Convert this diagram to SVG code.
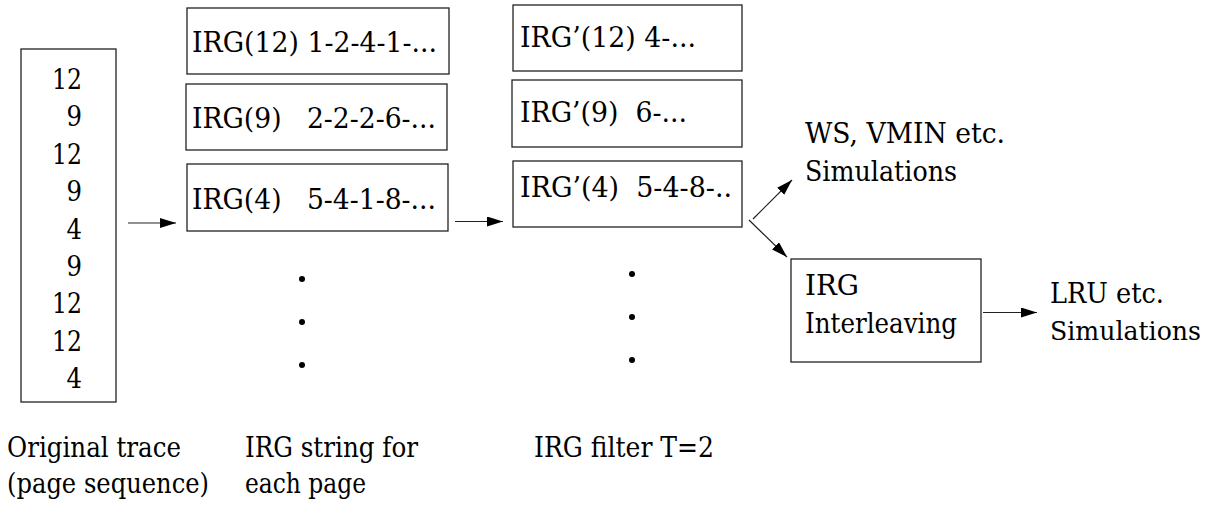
<svg xmlns="http://www.w3.org/2000/svg" width="1211" height="508" viewBox="0 0 1211 508" xml:space="preserve">
<defs>
<style>
text{font-family:"DejaVu Serif","Liberation Serif",serif;font-size:28px;fill:#000;white-space:pre}
.box{fill:#fff;stroke:#222;stroke-width:1.3}
.conn{stroke:#222;stroke-width:1.2;fill:none;marker-end:url(#ah)}
.dot{fill:#000}
</style>
<marker id="ah" markerUnits="userSpaceOnUse" markerWidth="17" markerHeight="12" refX="16" refY="5" orient="auto">
<path d="M0,0 L16,5 L0,10 z" fill="#000"/>
</marker>
</defs>
<rect width="1211" height="508" fill="#fff"/>
<g id="trace">
<rect class="box" x="21" y="49" width="95" height="353"/>
<g text-anchor="end">
<text x="82" y="89" textLength="30" lengthAdjust="spacingAndGlyphs">12</text>
<text x="82" y="126.4" textLength="15.5" lengthAdjust="spacingAndGlyphs">9</text>
<text x="82" y="163.8" textLength="30" lengthAdjust="spacingAndGlyphs">12</text>
<text x="82" y="201.2" textLength="15.5" lengthAdjust="spacingAndGlyphs">9</text>
<text x="82" y="238.6" textLength="15.5" lengthAdjust="spacingAndGlyphs">4</text>
<text x="82" y="276" textLength="15.5" lengthAdjust="spacingAndGlyphs">9</text>
<text x="82" y="313.4" textLength="30" lengthAdjust="spacingAndGlyphs">12</text>
<text x="82" y="350.8" textLength="30" lengthAdjust="spacingAndGlyphs">12</text>
<text x="82" y="388.2" textLength="15.5" lengthAdjust="spacingAndGlyphs">4</text>
</g>
</g>

<g id="irg12">
<rect class="box" x="187" y="8" width="262" height="66"/>
<text x="192" y="52" textLength="245" lengthAdjust="spacingAndGlyphs">IRG(12) 1-2-4-1-...</text>
</g>
<g id="irg9">
<rect class="box" x="186" y="84" width="261" height="66"/>
<text x="192" y="128" textLength="244" lengthAdjust="spacingAndGlyphs">IRG(9)   2-2-2-6-...</text>
</g>
<g id="irg4">
<rect class="box" x="187" y="164" width="261" height="67"/>
<text x="192" y="209" textLength="244" lengthAdjust="spacingAndGlyphs">IRG(4)   5-4-1-8-...</text>
</g>
<g id="dots2">
<circle class="dot" cx="302" cy="279" r="3"/>
<circle class="dot" cx="302" cy="322" r="3"/>
<circle class="dot" cx="302" cy="365" r="3"/>
</g>

<g id="irgp12">
<rect class="box" x="513" y="5" width="229" height="66"/>
<text x="520" y="47" textLength="176" lengthAdjust="spacingAndGlyphs">IRG’(12) 4-...</text>
</g>
<g id="irgp9">
<rect class="box" x="512" y="80" width="230" height="67"/>
<text x="520" y="122" textLength="167" lengthAdjust="spacingAndGlyphs">IRG’(9)  6-...</text>
</g>
<g id="irgp4">
<rect class="box" x="513" y="161" width="229" height="66"/>
<text x="520" y="197" textLength="212" lengthAdjust="spacingAndGlyphs">IRG’(4)  5-4-8-..</text>
</g>
<g id="dots3">
<circle class="dot" cx="632" cy="274" r="3"/>
<circle class="dot" cx="632" cy="317" r="3"/>
<circle class="dot" cx="632" cy="360" r="3"/>
</g>

<g id="ws">
<text x="805" y="143" textLength="200" lengthAdjust="spacingAndGlyphs">WS, VMIN etc.</text>
<text x="805" y="181" textLength="152" lengthAdjust="spacingAndGlyphs">Simulations</text>
</g>

<g id="interleave">
<rect class="box" x="791" y="259" width="190" height="103"/>
<text x="805" y="295" textLength="54" lengthAdjust="spacingAndGlyphs">IRG</text>
<text x="805" y="333" textLength="152" lengthAdjust="spacingAndGlyphs">Interleaving</text>
</g>

<g id="lru">
<text x="1050" y="303" textLength="114" lengthAdjust="spacingAndGlyphs">LRU etc.</text>
<text x="1050" y="340" font-size="26" textLength="151" lengthAdjust="spacingAndGlyphs" style="font-size:26px">Simulations</text>
</g>

<g id="labels">
<text x="7" y="457" textLength="174" lengthAdjust="spacingAndGlyphs">Original trace</text>
<text x="7" y="493" textLength="202" lengthAdjust="spacingAndGlyphs">(page sequence)</text>
<text x="245" y="457" textLength="173" lengthAdjust="spacingAndGlyphs">IRG string for</text>
<text x="245" y="493" textLength="121" lengthAdjust="spacingAndGlyphs">each page</text>
<text x="534" y="457" textLength="180" lengthAdjust="spacingAndGlyphs">IRG filter T=2</text>
</g>

<g id="connectors">
<line class="conn" x1="128" y1="223" x2="176" y2="223"/>
<line class="conn" x1="455" y1="221.5" x2="503" y2="221.5"/>
<line class="conn" x1="753" y1="219" x2="792" y2="180"/>
<line class="conn" x1="749" y1="220" x2="787" y2="257"/>
<line class="conn" x1="983" y1="312.5" x2="1037" y2="312.5"/>
</g>
</svg>
